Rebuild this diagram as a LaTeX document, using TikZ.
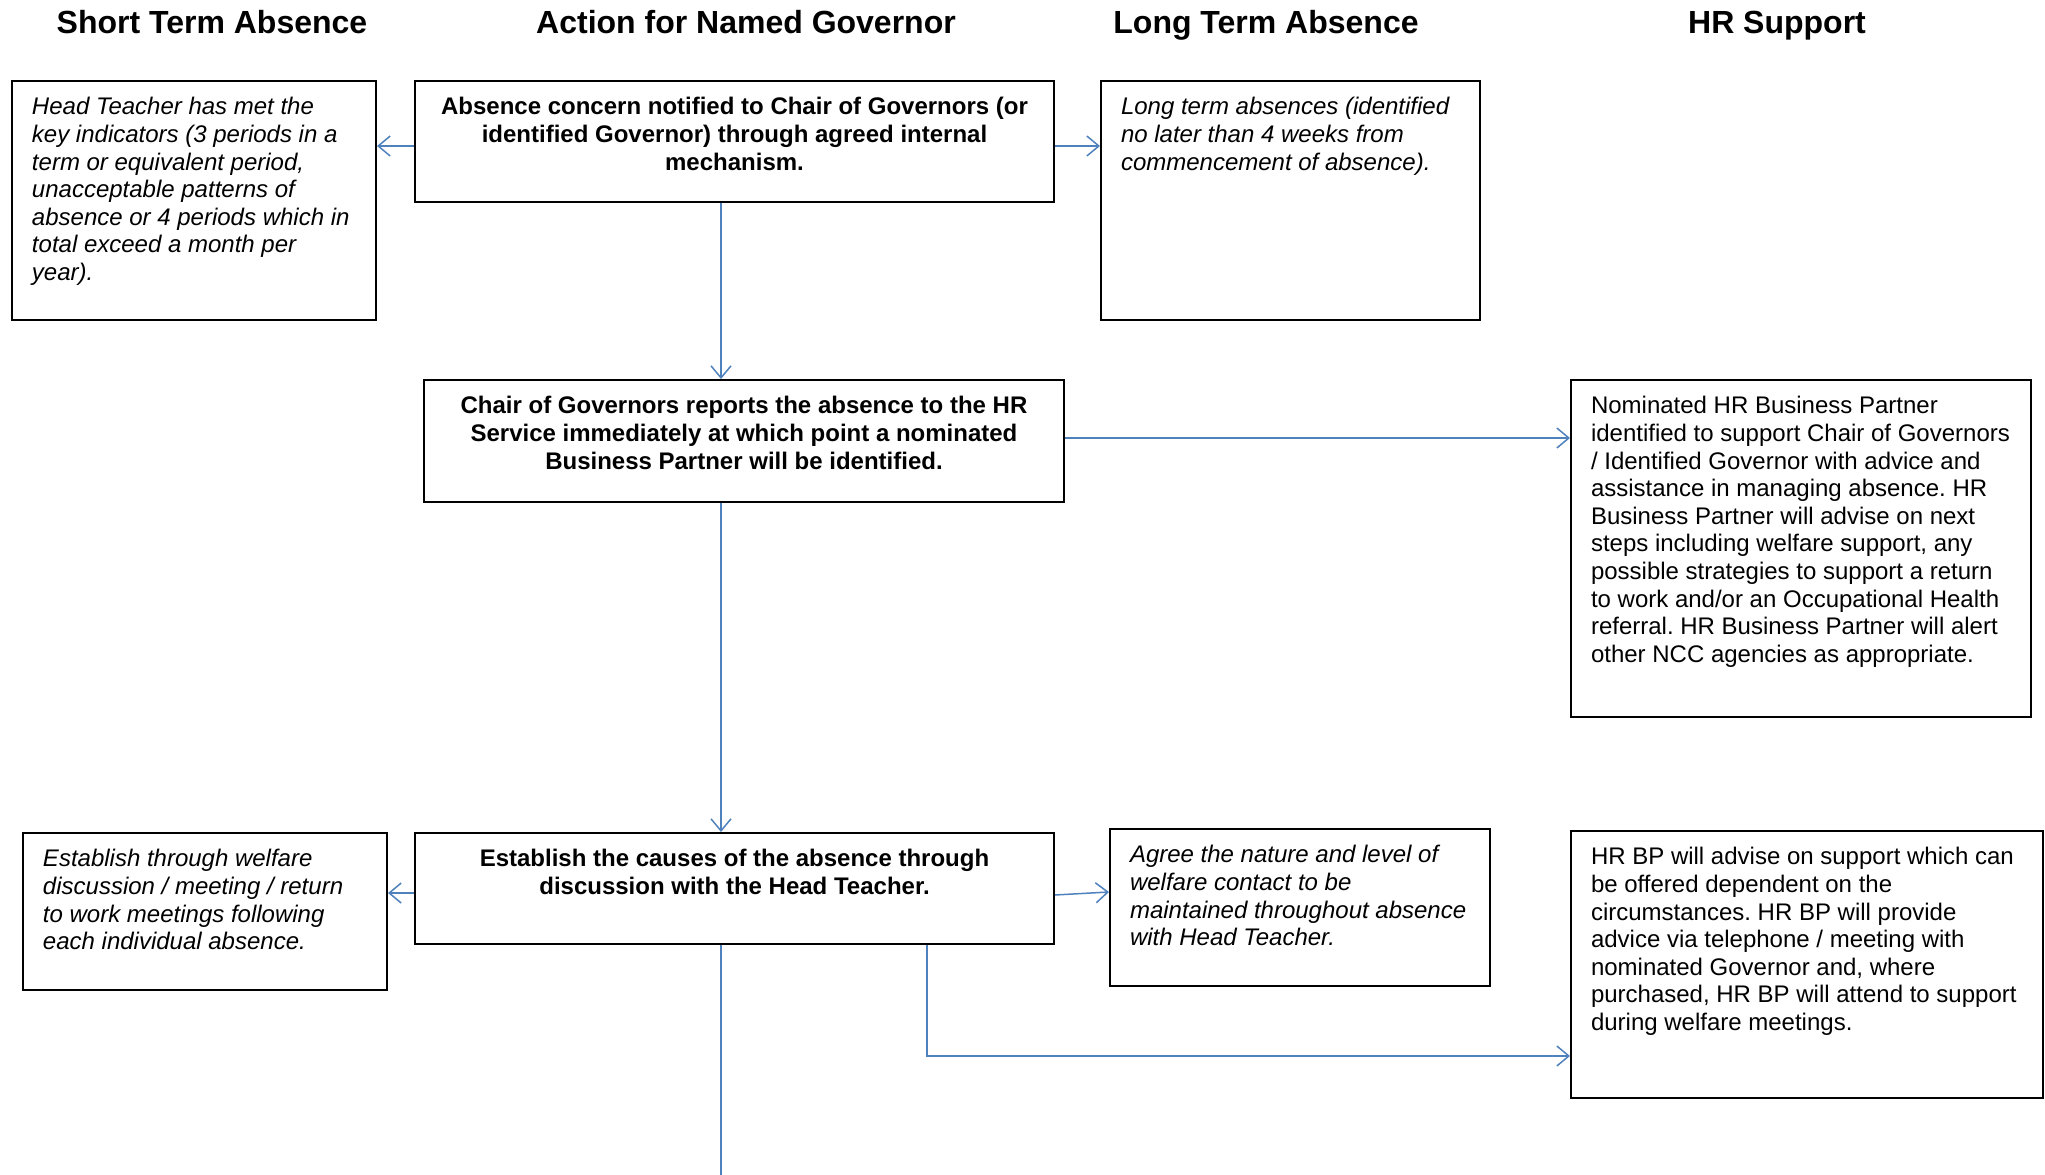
\documentclass[tikz,border=0pt]{standalone}
\usepackage{fontspec}
\setmainfont{Liberation Sans}
\usetikzlibrary{arrows.meta}
\definecolor{conn}{HTML}{4F81BD}
\frenchspacing
\newcommand\bxl[4]{\parbox[c][#2][t]{#1}{\vspace*{14.5pt}\hspace*{20pt}\parbox[t]{\dimexpr#1-28pt\relax}{\frenchspacing\raggedright#3\strut#4}}}
\newcommand\bxc[4]{\parbox[c][#2][t]{#1}{\vspace*{14.5pt}\hspace*{14pt}\parbox[t]{\dimexpr#1-28pt\relax}{\frenchspacing\centering#3\strut#4}}}
\tikzset{
  hdr/.style={font=\fontsize{32}{36}\selectfont\bfseries, inner sep=0pt, anchor=base},
  box/.style={draw=black, line width=2pt, inner sep=0pt, font=\fontsize{24}{27.6}\selectfont},
  arr/.style={draw=conn, line width=1.5pt, -{Straight Barb[length=12pt,width=20pt]}},
  ln/.style={draw=conn, line width=1.5pt}
}
\begin{document}
\begin{tikzpicture}[x=1pt,y=1pt]
\useasboundingbox (0,0) rectangle (2045,-1175);
% headers
\node[hdr] (H1) at (212,-33.5) {Short Term Absence};
\node[hdr] (H2) at (746,-33.5) {Action for Named Governor};
\node[hdr] (H3) at (1266,-33.5) {Long Term Absence};
\node[hdr] (H4) at (1777,-33.5) {HR Support};
% boxes
\node[box] (ST1) at (194,-200.5) {\bxl{364pt}{239pt}{\itshape}{Head Teacher has met the\\ key indicators (3 periods in a\\ term or equivalent period,\\ unacceptable patterns of\\ absence or 4 periods which in\\ total exceed a month per\\ year).}};
\node[box] (A1) at (734.5,-141.5) {\bxc{639pt}{121pt}{\bfseries}{Absence concern notified to Chair of Governors (or\\ identified Governor) through agreed internal\\ mechanism.}};
\node[box] (LT1) at (1290.5,-200.5) {\bxl{379pt}{239pt}{\itshape}{Long term absences (identified\\ no later than 4 weeks from\\ commencement of absence).}};
\node[box] (A2) at (744,-441) {\bxc{640pt}{122pt}{\bfseries}{Chair of Governors reports the absence to the HR\\ Service immediately at which point a nominated\\ Business Partner will be identified.}};
\node[box] (HR1) at (1801,-548.5) {\bxl{460pt}{337pt}{}{Nominated HR Business Partner\\ identified to support Chair of Governors\\ / Identified Governor with advice and\\ assistance in managing absence. HR\\ Business Partner will advise on next\\ steps including welfare support, any\\ possible strategies to support a return\\ to work and/or an Occupational Health\\ referral. HR Business Partner will alert\\ other NCC agencies as appropriate.}};
\node[box] (ST2) at (205,-911.5) {\bxl{364pt}{157pt}{\itshape}{Establish through welfare\\ discussion / meeting / return\\ to work meetings following\\ each individual absence.}};
\node[box] (A3) at (734.5,-888.5) {\bxc{639pt}{111pt}{\bfseries}{Establish the causes of the absence through\\ discussion with the Head Teacher.}};
\node[box] (LT2) at (1300,-907.5) {\bxl{380pt}{157pt}{\itshape}{Agree the nature and level of\\ welfare contact to be\\ maintained throughout absence\\ with Head Teacher.}};
\node[box] (HR2) at (1807,-964.5) {\bxl{472pt}{267pt}{}{HR BP will advise on support which can\\ be offered dependent on the\\ circumstances. HR BP will provide\\ advice via telephone / meeting with\\ nominated Governor and, where\\ purchased, HR BP will attend to support\\ during welfare meetings.}};
% connectors
\coordinate (a1l) at ([yshift=-4.5pt]A1.west);
\draw[arr] (a1l) -- (a1l -| ST1.east);
\coordinate (a1r) at ([yshift=-4.5pt]A1.east);
\draw[arr] (a1r) -- (a1r -| LT1.west);
\coordinate (a1b) at ([xshift=-13.5pt]A1.south);
\draw[arr] (a1b) -- (a1b |- A2.north);
\coordinate (a2r) at ([yshift=3pt]A2.east);
\draw[arr] (a2r) -- (a2r -| HR1.west);
\coordinate (a2b) at (a1b |- A2.south);
\draw[arr] (a2b) -- (a2b |- A3.north);
\coordinate (a3l) at ([yshift=-4.5pt]A3.west);
\draw[arr] (a3l) -- (a3l -| ST2.east);
\draw[arr] ([yshift=-6.5pt]A3.east) -- ([yshift=15.5pt]LT2.west);
\coordinate (a3c) at ([xshift=192.5pt]A3.south);
\draw[arr] (a3c) |- ([yshift=-91.5pt]HR2.west);
\coordinate (a3b) at (a1b |- A3.south);
\coordinate (fin) at (721,-1175);
\draw[ln] (a3b) -- (fin);
\end{tikzpicture}
\end{document}
